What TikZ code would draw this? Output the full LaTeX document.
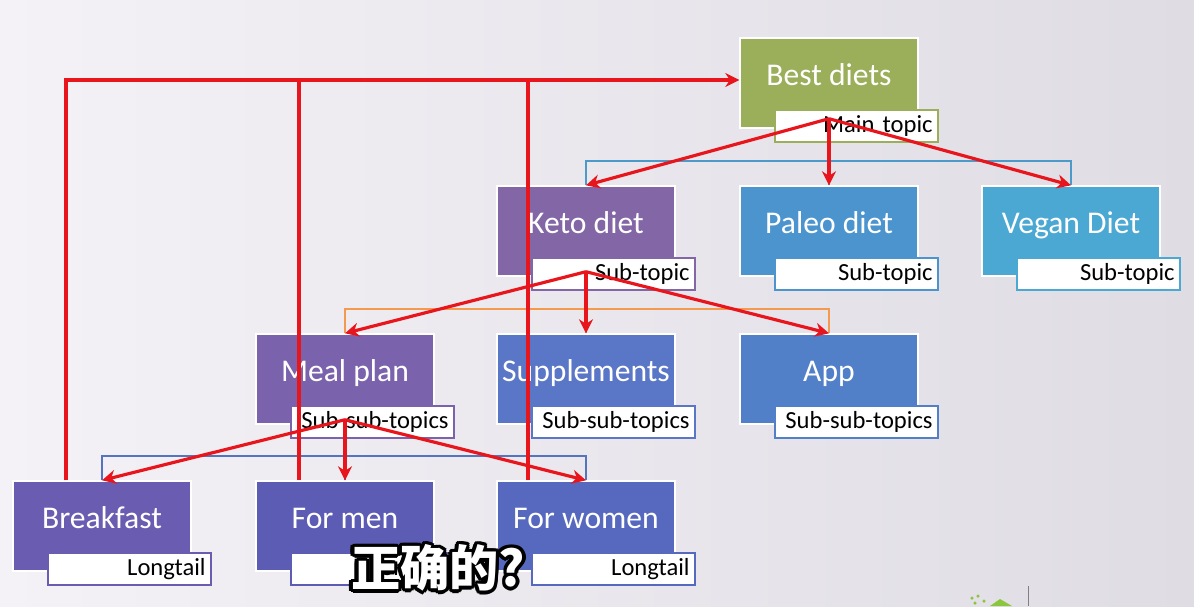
\documentclass[tikz,border=0pt]{standalone}
\usepackage{fontspec}
\setmainfont{Carlito}
\newfontfamily\cjkfont{Noto Sans CJK SC}
\usepackage{tikz}
\usetikzlibrary{arrows.meta,calc,positioning}
\usepackage{xcolor}
\definecolor{bgleft}{HTML}{F4F2F6}
\definecolor{bgright}{HTML}{DFDCE4}
\definecolor{bestcol}{HTML}{9BAF5A}
\definecolor{ketocol}{HTML}{8366A6}
\definecolor{paleocol}{HTML}{4C94CE}
\definecolor{vegancol}{HTML}{4BA8D2}
\definecolor{mealcol}{HTML}{7A63AC}
\definecolor{suppcol}{HTML}{5A76C6}
\definecolor{appcol}{HTML}{517FC8}
\definecolor{breakcol}{HTML}{6A5DB1}
\definecolor{mencol}{HTML}{5D5CB5}
\definecolor{womencol}{HTML}{5669BE}
\definecolor{treeblue}{HTML}{4C9AC9}
\definecolor{treeorange}{HTML}{F39A4E}
\definecolor{treeviolet}{HTML}{5574C0}
\definecolor{markred}{HTML}{E8161C}
\definecolor{logogreen}{HTML}{8CC63F}

\begin{document}
\begin{tikzpicture}[>={Stealth[length=2.8mm,width=2.8mm]},x=0.02cm,y=-0.02cm,
  box/.style={draw=white,line width=0.8pt,minimum width=3.56cm,minimum height=1.8cm,
    inner sep=0pt,text=white,font=\fontsize{18}{20}\selectfont,
    text height=0.4cm,text depth=0.3cm},
  tag/.style={fill=white,line width=1.2pt,minimum height=0.64cm,text width=3.06cm,
    inner xsep=0.1cm,inner ysep=0pt,align=right,anchor=north east,
    font=\fontsize{14}{16}\selectfont},
  tree/.style={line width=1.2pt},
  redarrow/.style={->,markred,line width=1.8pt},
  redline/.style={markred,line width=2.2pt},
  subline/.style={text=black,font=\cjkfont\bfseries\fontsize{28}{30}\selectfont}]
  \useasboundingbox (0,0) rectangle (1194,606);
  \shade[left color=bgleft,middle color=white,right color=bgright] (0,0) rectangle (1194,606);

  % logo corner
  \fill[logogreen] (990,606) -- (1000,599) -- (1012,606) -- cycle;
  \foreach \lx/\ly in {972/598,978/596,975/603,984/601}
    \fill[logogreen] (\lx,\ly) circle (0.035cm);
  \draw[gray,line width=0.5pt] (1028,586) -- (1028,606);

  % boxes
  \node[box,fill=bestcol] (best) at (829,83) {Best diets};
  \node[box,fill=ketocol] (keto) at (586,231) {Keto diet};
  \node[box,fill=paleocol] (paleo) at (829,231) {Paleo diet};
  \node[box,fill=vegancol] (vegan) at (1071,231) {Vegan Diet};
  \node[box,fill=mealcol] (meal) at (345,379) {Meal plan};
  \node[box,fill=suppcol] (supp) at (586,379) {Supplements};
  \node[box,fill=appcol] (app) at (829,379) {App};
  \node[box,fill=breakcol] (breakfast) at (102,526) {Breakfast};
  \node[box,fill=mencol] (formen) at (345,526) {For men};
  \node[box,fill=womencol] (forwomen) at (586,526) {For women};

  % tags
  \node[tag,draw=bestcol] (bestT) at ([shift={(0.4cm,0.4cm)}]best.south east) {Main topic};
  \node[tag,draw=ketocol] (ketoT) at ([shift={(0.4cm,0.4cm)}]keto.south east) {Sub-topic};
  \node[tag,draw=paleocol] (paleoT) at ([shift={(0.4cm,0.4cm)}]paleo.south east) {Sub-topic};
  \node[tag,draw=vegancol] (veganT) at ([shift={(0.4cm,0.4cm)}]vegan.south east) {Sub-topic};
  \node[tag,draw=mealcol] (mealT) at ([shift={(0.4cm,0.4cm)}]meal.south east) {Sub-sub-topics};
  \node[tag,draw=suppcol] (suppT) at ([shift={(0.4cm,0.4cm)}]supp.south east) {Sub-sub-topics};
  \node[tag,draw=appcol] (appT) at ([shift={(0.4cm,0.4cm)}]app.south east) {Sub-sub-topics};
  \node[tag,draw=breakcol] (breakfastT) at ([shift={(0.4cm,0.4cm)}]breakfast.south east) {Longtail};
  \node[tag,draw=mencol] (formenT) at ([shift={(0.4cm,0.4cm)}]formen.south east) {Longtail};
  \node[tag,draw=womencol] (forwomenT) at ([shift={(0.4cm,0.4cm)}]forwomen.south east) {Longtail};

  % tree lines
  \draw[tree,treeblue] (keto.north) -- ++(0,-24) -| (vegan.north);
  \draw[tree,treeblue] (paleo.north |- bestT.south) -- (paleo.north);
  \draw[tree,treeorange] (meal.north) -- ++(0,-24) -| (app.north);
  \draw[tree,treeorange] (supp.north |- ketoT.south) -- (supp.north);
  \draw[tree,treeviolet] (breakfast.north) -- ++(0,-24) -| (forwomen.north);
  \draw[tree,treeviolet] (formen.north |- mealT.south) -- (formen.north);

  % red arrows
  \coordinate (bestO) at ([yshift=0.2cm]best.south);
  \coordinate (ketoO) at ([yshift=0.1cm]keto.south);
  \coordinate (mealO) at ([yshift=0.1cm]meal.south);
  \draw[redarrow] (bestO) -- (keto.north);
  \draw[redarrow] (bestO) -- (paleo.north);
  \draw[redarrow] (bestO) -- (vegan.north);
  \draw[redarrow] (ketoO) -- (meal.north);
  \draw[redarrow] (ketoO) -- (supp.north);
  \draw[redarrow] (ketoO) -- (app.north);
  \draw[redarrow] (mealO) -- (breakfast.north);
  \draw[redarrow] (mealO) -- (formen.north);
  \draw[redarrow] (mealO) -- (forwomen.north);

  % back links
  \coordinate (backT) at ([yshift=0.06cm]best.west);
  \coordinate (breakUp) at ([xshift=1.08cm]breakfast.north west);
  \coordinate (menUp) at ([xshift=0.88cm]formen.north west);
  \coordinate (womenUp) at ([xshift=0.64cm]forwomen.north west);
  \draw[redline,->] (breakUp) |- (backT);
  \draw[redline] (menUp) -- (menUp |- backT);
  \draw[redline] (womenUp) -- (womenUp |- backT);

  % subtitle, black rim then white face
  \coordinate (sub) at (438,568);
  \foreach \a in {0,30,...,330}
    \node[subline] (subo\a) at ($(sub)+(\a:0.07cm)$) {正确的?};
  \node[subline,text=white] (subtitle) at (sub) {正确的?};
\end{tikzpicture}
\end{document}
